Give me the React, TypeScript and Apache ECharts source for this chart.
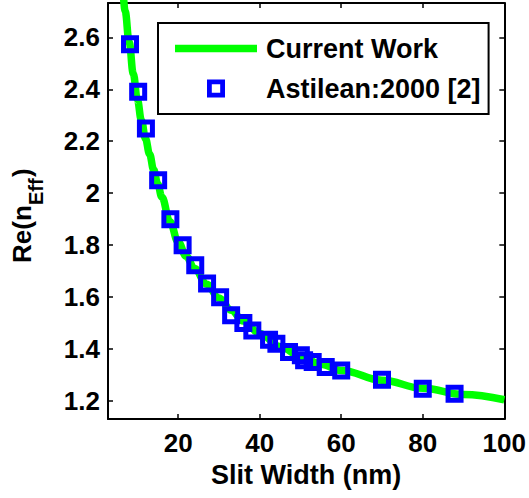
import React, { useEffect, useRef } from "react";
import * as echarts from "echarts";

// Current Work curve
const curveX = [6.5, 7, 8, 9, 10, 11, 12, 13, 14, 15, 16, 18, 20, 22, 24, 27, 30, 33, 36, 40, 45, 50, 55, 60, 70, 80, 90, 100];
const curveY = [2.78, 2.7, 2.58, 2.46, 2.36, 2.28, 2.21, 2.15, 2.09, 2.035, 1.985, 1.89, 1.812, 1.757, 1.71, 1.65, 1.597, 1.55, 1.508, 1.46, 1.41, 1.372, 1.342, 1.318, 1.28, 1.249, 1.225, 1.205];

// Astilean:2000 [2] markers
const astX = [8.2, 10.2, 12.1, 15.1, 18.1, 21.1, 24.2, 27.1, 30.3, 33, 36, 38.2, 42.3, 44.1, 47.2, 50.1, 50.9, 53, 56.2, 60, 70, 80, 87.8];
const astY = [2.573, 2.39, 2.249, 2.05, 1.9, 1.8, 1.723, 1.652, 1.6, 1.53, 1.5, 1.472, 1.436, 1.421, 1.389, 1.376, 1.357, 1.35, 1.331, 1.318, 1.282, 1.247, 1.228];

const xTicks = [20, 40, 60, 80, 100];
const yTicks = [1.2, 1.4, 1.6, 1.8, 2, 2.2, 2.4, 2.6];

const X_MIN = 2.8;
const X_MAX = 100;
const Y_MIN = 1.131;
const Y_MAX = 2.732;

const FONT = "'Liberation Sans', Arial, sans-serif";

export default function App() {
  const ref = useRef<HTMLDivElement>(null);
  useEffect(() => {
    if (!ref.current) return;
    const chart = echarts.init(ref.current, null, { renderer: "svg" });
    const axisLine = { show: true, onZero: false, lineStyle: { color: "#000", width: 2 } };
    const labelStyle = { fontSize: 26, fontWeight: "bold" as const, color: "#000", fontFamily: FONT };
    chart.setOption({
      animation: false,
      textStyle: { fontFamily: FONT },
      grid: { left: 108, top: 3, width: 399, height: 416, containLabel: false },
      legend: {
        orient: "vertical",
        left: 158,
        top: 23,
        padding: [12, 8, 12, 17],
        borderColor: "#000",
        borderWidth: 2,
        backgroundColor: "#fff",
        itemWidth: 82,
        itemHeight: 18,
        itemGap: 13,
        selectedMode: false,
        z: 10,
        textStyle: { fontSize: 27, fontWeight: "bold", color: "#000", fontFamily: FONT, lineHeight: 24, padding: [0, 0, 0, 4] },
        data: [
          {
            name: "Current Work",
            icon: "path://M0,0H82V7.5H0Z",
            itemStyle: { color: "#00ff00", borderWidth: 0 },
          },
          {
            name: "Astilean:2000 [2]",
            icon: "path://M0,0H18V18H0Z M4.8,4.8V13.2H13.2V4.8Z",
            itemStyle: { color: "#0000ff", borderWidth: 0 },
          },
        ],
      },
      xAxis: [
        {
          type: "value",
          position: "bottom",
          min: X_MIN,
          max: X_MAX,
          axisLine,
          axisTick: { show: true, inside: true, length: 5, lineStyle: { color: "#000", width: 1.5 }, customValues: xTicks },
          axisLabel: { ...labelStyle, margin: 11, customValues: xTicks },
          splitLine: { show: false },
          name: "Slit Width (nm)",
          nameLocation: "middle",
          nameGap: 42,
          nameTextStyle: { fontSize: 27, fontWeight: "bold", color: "#000", fontFamily: FONT },
        },
        {
          type: "value",
          position: "top",
          min: X_MIN,
          max: X_MAX,
          axisLine,
          axisTick: { show: true, inside: true, length: 5, lineStyle: { color: "#000", width: 1.5 }, customValues: xTicks },
          axisLabel: { show: false, customValues: xTicks },
          splitLine: { show: false },
        },
      ],
      yAxis: [
        {
          type: "value",
          position: "left",
          min: Y_MIN,
          max: Y_MAX,
          axisLine,
          axisTick: { show: true, inside: true, length: 5, lineStyle: { color: "#000", width: 1.5 }, customValues: yTicks },
          axisLabel: {
            ...labelStyle,
            margin: 8,
            customValues: yTicks,
            formatter: (v: number) => String(Math.round(v * 10) / 10),
          },
          splitLine: { show: false },
        },
        {
          type: "value",
          position: "right",
          min: Y_MIN,
          max: Y_MAX,
          axisLine,
          axisTick: { show: true, inside: true, length: 5, lineStyle: { color: "#000", width: 1.5 }, customValues: yTicks },
          axisLabel: { show: false, customValues: yTicks },
          splitLine: { show: false },
        },
      ],
      graphic: [
        {
          type: "group",
          x: 22,
          y: 263,
          rotation: Math.PI / 2,
          children: [
            {
              type: "text",
              x: 0,
              y: 0,
              style: { text: "Re(n", fontSize: 26, fontWeight: "bold", fontFamily: FONT, fill: "#000", align: "left", verticalAlign: "middle" },
            },
            {
              type: "text",
              x: 58,
              y: 14,
              style: { text: "Eff", fontSize: 20, fontWeight: "bold", fontFamily: FONT, fill: "#000", align: "left", verticalAlign: "middle" },
            },
            {
              type: "text",
              x: 86,
              y: 0,
              style: { text: ")", fontSize: 26, fontWeight: "bold", fontFamily: FONT, fill: "#000", align: "left", verticalAlign: "middle" },
            },
          ],
        },
      ],
      series: [
        {
          type: "line",
          name: "Current Work",
          xAxisIndex: 0,
          yAxisIndex: 0,
          z: 2,
          data: curveX.map((x, i) => [x, curveY[i]]),
          symbol: "none",
          smooth: 0.4,
          smoothMonotone: "x",
          lineStyle: { color: "#00ff00", width: 7.5 },
          itemStyle: { color: "#00ff00" },
          clip: true,
        },
        {
          type: "scatter",
          name: "Astilean:2000 [2]",
          xAxisIndex: 0,
          yAxisIndex: 0,
          z: 4,
          data: astX.map((x, i) => [x, astY[i]]),
          symbol: "rect",
          symbolSize: 13,
          itemStyle: { color: "rgba(0,0,0,0)", borderColor: "#0000ff", borderWidth: 5, opacity: 1 },
        },
      ],
    });
    return () => chart.dispose();
  }, []);
  return (
    <div
      ref={ref}
      style={{ position: "fixed", left: 0, top: 0, width: 529, height: 498, background: "#fff" }}
    />
  );
}
